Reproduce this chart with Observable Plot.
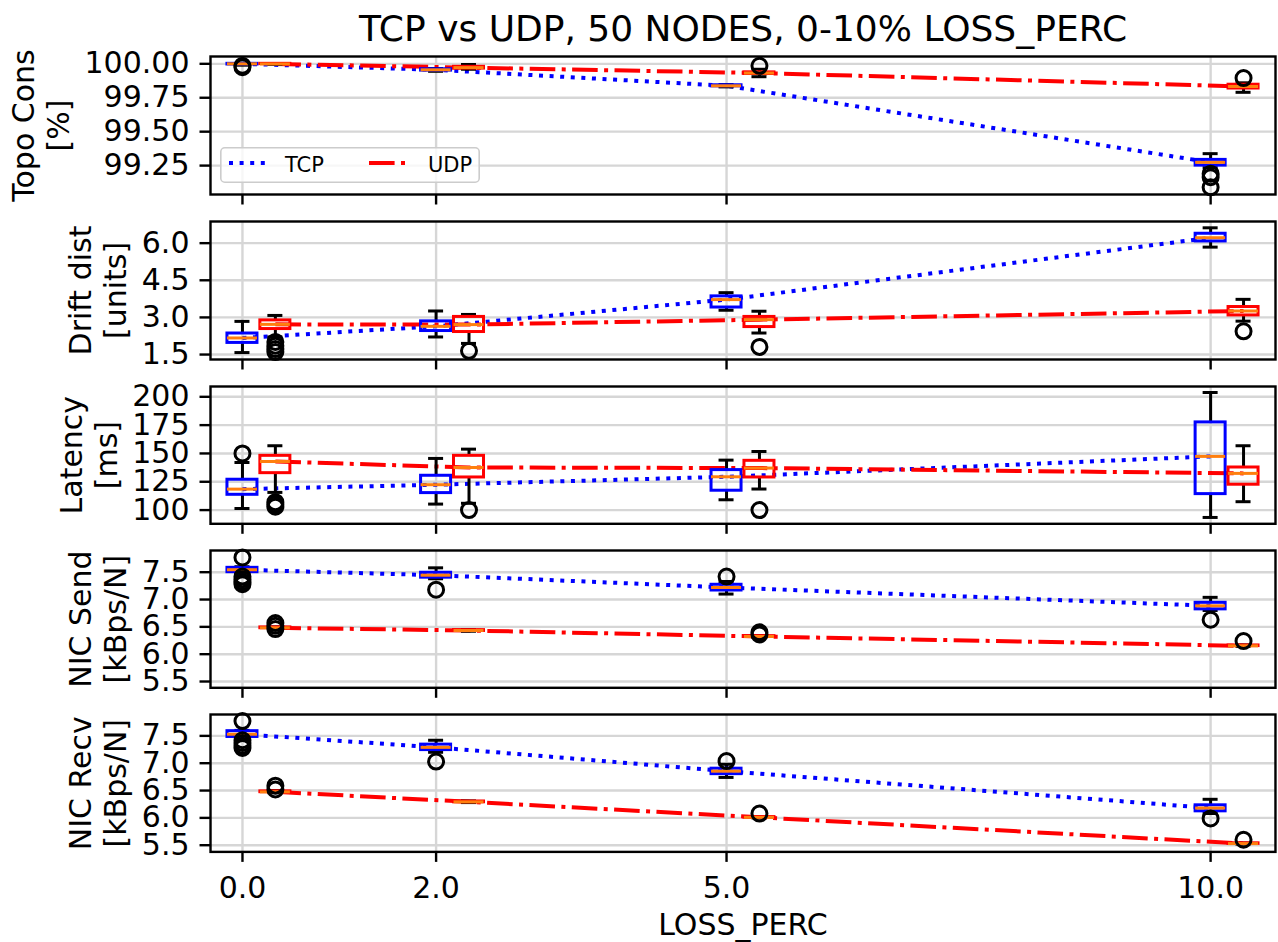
<!DOCTYPE html>
<html>
<head>
<meta charset="utf-8">
<script src="https://cdn.jsdelivr.net/npm/d3@7"></script>
<script src="https://cdn.jsdelivr.net/npm/@observablehq/plot@0.6"></script>
<style>
  body { margin: 0; background: #fff; font-family: "DejaVu Sans", sans-serif; }
  #chart { position: relative; width: 1278px; height: 942px; overflow: hidden; }
  #chart > svg { position: absolute; left: 0; }
</style>
</head>
<body>
<div id="chart"></div>
<script>
// ---------------- DATA ----------------
const title = "TCP vs UDP, 50 NODES, 0-10% LOSS_PERC";
const xLabel = "LOSS_PERC";
const lossPerc = [0, 2, 5, 10];
const xTickLabels = ["0.0", "2.0", "5.0", "10.0"];
const protocols = ["TCP", "UDP"];

// box stats per loss level: [whisker low, q1, median, q3, whisker high]
const topoTcp = [[99.99, 99.995, 100.0, 100.0, 100.0], [99.945, 99.95, 99.956, 99.96, 99.965], [99.83, 99.834, 99.838, 99.842, 99.847], [99.235, 99.25, 99.274, 99.292, 99.338]];
const topoTcpFliers = [[99.975, 99.985], [], [], [99.19, 99.165, 99.09]];
const topoUdp = [[99.996, 99.998, 99.999, 100.0, 100.0], [99.96, 99.965, 99.972, 99.978, 99.995], [99.905, 99.925, 99.932, 99.937, 99.96], [99.79, 99.818, 99.833, 99.846, 99.86]];
const topoUdpFliers = [[], [], [99.985], [99.895]];
const topoTicks = [99.25, 99.5, 99.75, 100.0];

const driftTcp = [[1.58, 1.97, 2.17, 2.35, 2.84], [2.21, 2.45, 2.64, 2.84, 3.26], [3.29, 3.40, 3.72, 3.85, 4.00], [5.84, 6.07, 6.22, 6.38, 6.62]];
const driftTcpFliers = [[], [], [], []];
const driftUdp = [[2.21, 2.53, 2.72, 2.88, 3.08], [1.95, 2.41, 2.71, 3.02, 3.12], [2.37, 2.61, 2.91, 3.02, 3.25], [2.85, 3.08, 3.26, 3.42, 3.73]];
const driftUdpFliers = [[2.01, 1.86, 1.72, 1.6], [1.65], [1.81], [2.44]];
const driftTicks = [1.5, 3.0, 4.5, 6.0];

const latTcp = [[101.4, 113.5, 118.5, 126.8, 142], [105.3, 115, 122.4, 130.3, 145.6], [109.1, 117.1, 129.4, 135.3, 144.1], [93.5, 114.1, 147.4, 177.4, 203.8]];
const latTcpFliers = [[150], [], [], []];
const latUdp = [[115.6, 132.6, 142.9, 147.9, 156.8], [106, 128.8, 137.6, 147.9, 153.8], [118.6, 128.8, 137.1, 143.5, 151.7], [107.4, 122.4, 132.4, 137.6, 156.8]];
const latUdpFliers = [[107, 105, 103], [100], [100], []];
const latTicks = [100, 125, 150, 175, 200];

const sendTcp = [[7.49, 7.50, 7.545, 7.58, 7.60], [7.38, 7.40, 7.445, 7.49, 7.58], [7.10, 7.165, 7.22, 7.27, 7.33], [6.80, 6.82, 6.885, 6.94, 7.04]];
const sendTcpFliers = [[7.77, 7.42, 7.37, 7.32, 7.28], [7.18], [7.42], [6.63]];
const sendUdp = [[6.47, 6.475, 6.483, 6.49, 6.50], [6.42, 6.425, 6.433, 6.44, 6.45], [6.31, 6.318, 6.324, 6.33, 6.34], [6.14, 6.148, 6.153, 6.16, 6.17]];
const sendUdpFliers = [[6.57, 6.52, 6.46], [], [6.40, 6.36], [6.24]];
const sendTicks = [5.5, 6.0, 6.5, 7.0, 7.5];

const recvTcp = [[7.47, 7.48, 7.53, 7.586, 7.60], [7.20, 7.24, 7.29, 7.34, 7.42], [6.74, 6.80, 6.855, 6.90, 6.98], [6.08, 6.12, 6.18, 6.23, 6.34]];
const recvTcpFliers = [[7.77, 7.42, 7.37, 7.32, 7.28], [7.03], [7.04], [5.99]];
const recvUdp = [[6.46, 6.47, 6.476, 6.485, 6.50], [6.28, 6.285, 6.293, 6.30, 6.31], [6.0, 6.005, 6.01, 6.015, 6.02], [5.52, 5.525, 5.53, 5.535, 5.54]];
const recvUdpFliers = [[6.59, 6.52], [], [6.08], [5.60]];
const recvTicks = [5.5, 6.0, 6.5, 7.0, 7.5];

// ---------------- LAYOUT ----------------
const W = 1278, ML = 210, MR = 3;
const xDomain = [-0.33, 10.67];
const UDP_OFFSET = 0.34, BOX_W = 0.31, CAP_W = BOX_W / 2;
const colors = {TCP: "#0000ff", UDP: "#ff0000"};
const dashes = {TCP: "4,6.6", UDP: "25.6,6.4,4,6.4"};
const FONT = "DejaVu Sans";

const panels = [
  {label: ["Topo Cons", "[%]"], tcp: topoTcp, tcpF: topoTcpFliers, udp: topoUdp, udpF: topoUdpFliers, ticks: topoTicks, fmt: d3.format(".2f"), domain: [99.037, 100.054]},
  {label: ["Drift dist", "[units]"], tcp: driftTcp, tcpF: driftTcpFliers, udp: driftUdp, udpF: driftUdpFliers, ticks: driftTicks, fmt: d3.format(".1f"), domain: [1.30, 6.875]},
  {label: ["Latency", "[ms]"], tcp: latTcp, tcpF: latTcpFliers, udp: latUdp, udpF: latUdpFliers, ticks: latTicks, fmt: d3.format("d"), domain: [87.9, 209.1]},
  {label: ["NIC Send", "[kBps/N]"], tcp: sendTcp, tcpF: sendTcpFliers, udp: sendUdp, udpF: sendUdpFliers, ticks: sendTicks, fmt: d3.format(".1f"), domain: [5.385, 7.897]},
  {label: ["NIC Recv", "[kBps/N]"], tcp: recvTcp, tcpF: recvTcpFliers, udp: recvUdp, udpF: recvUdpFliers, ticks: recvTicks, fmt: d3.format(".1f"), domain: [5.378, 7.891]}
];
const frameTops = [56, 221, 385.7, 550, 714.3];
const frameH = [138, 138, 137.3, 137.3, 137.4];

const canvas = document.createElement("canvas");
const ctx = canvas.getContext("2d");
ctx.font = `30px "${FONT}"`;

function boxRows(stats, proto, off) {
  return stats.map((s, i) => ({proto, x: lossPerc[i] + off, lo: s[0], q1: s[1], med: s[2], q3: s[3], hi: s[4]}));
}
function flierRows(fl, off) {
  return fl.flatMap((arr, i) => arr.map(v => ({x: lossPerc[i] + off, y: v})));
}

function boxMarks(rows, fliers, proto) {
  const c = colors[proto];
  return [
    Plot.ruleX(rows, {x: "x", y1: "q3", y2: "hi", stroke: "black", strokeWidth: 3}),
    Plot.ruleX(rows, {x: "x", y1: "lo", y2: "q1", stroke: "black", strokeWidth: 3}),
    Plot.ruleY(rows, {y: "hi", x1: d => d.x - CAP_W / 2, x2: d => d.x + CAP_W / 2, stroke: "black", strokeWidth: 3}),
    Plot.ruleY(rows, {y: "lo", x1: d => d.x - CAP_W / 2, x2: d => d.x + CAP_W / 2, stroke: "black", strokeWidth: 3}),
    Plot.rect(rows, {x1: d => d.x - BOX_W / 2, x2: d => d.x + BOX_W / 2, y1: "q1", y2: "q3", fill: "none", stroke: c, strokeWidth: 3}),
    Plot.ruleY(rows, {y: "med", x1: d => d.x - BOX_W / 2, x2: d => d.x + BOX_W / 2, stroke: "#ff7f0e", strokeWidth: 3}),
    Plot.dot(fliers, {x: "x", y: "y", r: 7.5, stroke: "black", strokeWidth: 3, fill: "none"})
  ];
}

const chart = document.getElementById("chart");

panels.forEach((p, i) => {
  const last = i === panels.length - 1;
  const first = i === 0;
  const mt = first ? frameTops[0] : 10;
  const top = frameTops[i] - mt;
  const mb = last ? (942 - frameTops[i] - frameH[i]) : 16;
  const h = mt + frameH[i] + mb;

  const tcpRows = boxRows(p.tcp, "TCP", 0);
  const udpRows = boxRows(p.udp, "UDP", UDP_OFFSET);
  const tcpFl = flierRows(p.tcpF, 0);
  const udpFl = flierRows(p.udpF, UDP_OFFSET);

  // horizontal offsets of the two rotated label lines from the frame's left edge
  const tickW = d3.max(p.ticks, t => ctx.measureText(p.fmt(t)).width);
  const off2 = -(10.5 + 10.5) - tickW - 25;
  const off1 = off2 - 35;

  const marks = [
    Plot.gridY(p.ticks, {stroke: "#d6d6d6", strokeOpacity: 1, strokeWidth: 2.4}),
    Plot.gridX(lossPerc, {stroke: "#d6d6d6", strokeOpacity: 1, strokeWidth: 2.4}),
    Plot.line(tcpRows, {x: "x", y: "med", stroke: colors.TCP, strokeWidth: 4, strokeDasharray: dashes.TCP, strokeLinecap: "butt"}),
    Plot.line(udpRows, {x: "x", y: "med", stroke: colors.UDP, strokeWidth: 4, strokeDasharray: dashes.UDP, strokeLinecap: "butt"}),
    ...boxMarks(tcpRows, tcpFl, "TCP"),
    ...boxMarks(udpRows, udpFl, "UDP"),
    Plot.frame({stroke: "black", strokeWidth: 2.4}),
    Plot.axisY(p.ticks, {tickSize: 10.5, tickPadding: 10.5, fontSize: 30, tickFormat: p.fmt, strokeWidth: 2.4, label: null}),
    Plot.axisX(lossPerc, {
      tickSize: 10.5, tickPadding: 14, fontSize: 30, strokeWidth: 2.4, label: null,
      tickFormat: last ? (d => xTickLabels[lossPerc.indexOf(d)]) : (() => "")
    }),
    Plot.text([p.label[0]], {frameAnchor: "left", text: d => d, rotate: -90, dx: off1, textAnchor: "middle", lineAnchor: "middle", fontSize: 30}),
    Plot.text([p.label[1]], {frameAnchor: "left", text: d => d, rotate: -90, dx: off2, textAnchor: "middle", lineAnchor: "middle", fontSize: 30})
  ];
  if (first) {
    marks.push(Plot.text([title], {frameAnchor: "top", text: d => d, dy: -27.5, lineAnchor: "middle", fontSize: 36}));
  }
  if (last) {
    marks.push(Plot.text([xLabel], {frameAnchor: "bottom", text: d => d, dy: 74, lineAnchor: "middle", fontSize: 30}));
  }

  const svg = Plot.plot({
    width: W, height: h,
    marginLeft: ML, marginRight: MR, marginTop: mt, marginBottom: mb,
    x: {type: "linear", domain: xDomain},
    y: {type: "linear", domain: p.domain},
    style: {fontFamily: FONT, fontSize: "30px", color: "black", background: "transparent", overflow: "visible"},
    marks
  });
  svg.style.top = top + "px";
  chart.appendChild(svg);
});

// legend (inside top panel, lower left)
const legendX = 220, legendY = 147, legendW = 260, legendH = 36;
const ns = "http://www.w3.org/2000/svg";
const lg = document.createElementNS(ns, "svg");
lg.setAttribute("width", legendW);
lg.setAttribute("height", legendH);
lg.style.position = "absolute";
lg.style.left = legendX + "px";
lg.style.top = legendY + "px";
lg.style.fontFamily = FONT;
const legendItems = protocols.map((proto, i) => ({proto, lx1: 9 + i * 140, lx2: 49 + i * 140, tx: 65 + i * 143}));
lg.innerHTML =
  `<rect x="0.8" y="0.8" width="${legendW - 1.6}" height="${legendH - 1.6}" rx="4" fill="white" fill-opacity="0.8" stroke="#cccccc" stroke-width="1.6"/>` +
  legendItems.map(it =>
    `<line x1="${it.lx1}" x2="${it.lx2}" y1="16" y2="16" stroke="${colors[it.proto]}" stroke-width="4" stroke-dasharray="${dashes[it.proto]}"/>` +
    `<text x="${it.tx}" y="24.5" font-size="21" fill="black">${it.proto}</text>`
  ).join("");
chart.appendChild(lg);
</script>
</body>
</html>
